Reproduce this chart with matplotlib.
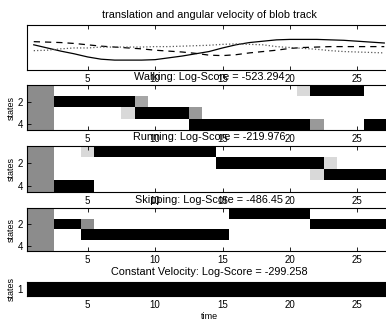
import numpy as np
import matplotlib
matplotlib.use('Agg')
import matplotlib.pyplot as plt

plt.rcParams['font.family'] = ['Liberation Sans', 'DejaVu Sans']
plt.rcParams['font.size'] = 6.5

# time axis
time = np.arange(1, 28)

# blob track, arbitrary units
trans_vel = [0.56, 0.49, 0.42, 0.36, 0.29, 0.24, 0.22, 0.22, 0.22, 0.23, 0.27, 0.31, 0.36, 0.41,
             0.49, 0.56, 0.61, 0.64, 0.67, 0.68, 0.68, 0.68, 0.67, 0.66, 0.64, 0.62, 0.60]
ang_vel = [0.63, 0.62, 0.61, 0.59, 0.56, 0.53, 0.51, 0.49, 0.47, 0.44, 0.42, 0.40, 0.37, 0.33,
           0.32, 0.34, 0.38, 0.41, 0.44, 0.48, 0.50, 0.51, 0.52, 0.52, 0.52, 0.52, 0.52]
third_vel = [0.43, 0.44, 0.47, 0.49, 0.49, 0.51, 0.51, 0.51, 0.51, 0.52, 0.52, 0.53, 0.54, 0.55,
             0.57, 0.58, 0.57, 0.56, 0.52, 0.50, 0.48, 0.46, 0.43, 0.41, 0.40, 0.39, 0.38]

# most likely state per time step (0 = uniform start)
walking_path = [0, 0, 2, 2, 2, 2, 2, 2, 3, 3, 3, 3, 4, 4, 4, 4, 4, 4, 4, 4, 4, 1, 1, 1, 1, 4, 4]
running_path = [0, 0, 4, 4, 4, 1, 1, 1, 1, 1, 1, 1, 1, 1, 2, 2, 2, 2, 2, 2, 2, 2, 3, 3, 3, 3, 3]
skipping_path = [0, 0, 2, 2, 3, 3, 3, 3, 3, 3, 3, 3, 3, 3, 3, 1, 1, 1, 1, 1, 1, 2, 2, 2, 2, 2, 2]
constvel_path = [1] * 27

# weaker probabilities: (time, state, prob)
walking_weak = [(8, 3, 0.15), (9, 2, 0.35), (13, 3, 0.4), (21, 1, 0.15), (22, 4, 0.4)]
running_weak = [(5, 1, 0.15), (22, 3, 0.15), (23, 2, 0.15)]
skipping_weak = [(5, 2, 0.45)]
constvel_weak = []

titles = ['Walking: Log-Score = -523.294',
          'Running: Log-Score = -219.976',
          'Skipping: Log-Score = -486.45',
          'Constant Velocity: Log-Score = -299.258']
n_states = [4, 4, 4, 1]

def state_matrix(path, weak, n):
    m = np.zeros((n, len(path)))
    for t, s in enumerate(path):
        if s == 0:
            m[:, t] = 0.45 if n > 1 else 1.0
        else:
            m[s - 1, t] = 1.0
    for t, s, p in weak:
        m[s - 1, t - 1] = p
    return m

def style_axes(ax):
    ax.set_xlim(0.5, 27.5)
    ax.set_xticks([5, 10, 15, 20, 25])
    ax.tick_params(direction='in', top=True, right=True, length=3, width=0.6, pad=3,
                   labelsize=7)
    for sp in ax.spines.values():
        sp.set_linewidth(0.8)

fig = plt.figure(figsize=(3.86, 3.2), dpi=100)
left, width = 0.070, 0.943

# top panel: the track
ax0 = fig.add_axes([left, 0.78125, width, 0.1406])
ax0.plot(time, trans_vel, 'k-', lw=0.9)
ax0.plot(time, ang_vel, 'k--', lw=0.9, dashes=(5, 4))
ax0.plot(time, third_vel, ':', color='0.35', lw=0.9)
ax0.set_ylim(0, 1)
ax0.set_yticks([])
style_axes(ax0)
ax0.set_title('translation and angular velocity of blob track', pad=5)

rects = [[left, 0.59375, width, 0.1406],
         [left, 0.40, width, 0.14375],
         [left, 0.2156, width, 0.134],
         [left, 0.075, width, 0.04375]]
paths = [walking_path, running_path, skipping_path, constvel_path]
weaks = [walking_weak, running_weak, skipping_weak, constvel_weak]
pads = [3.5, 4.5, 3.5, 5]

for i in range(4):
    ax = fig.add_axes(rects[i])
    n = n_states[i]
    m = state_matrix(paths[i], weaks[i], n)
    ax.imshow(m, cmap='gray_r', vmin=0, vmax=1, aspect='auto', interpolation='nearest',
              extent=(0.5, 27.5, n + 0.5, 0.5))
    style_axes(ax)
    ax.set_yticks([2, 4] if n > 1 else [1])
    ax.set_ylabel('states', labelpad=1)
    ax.set_title(titles[i], pad=pads[i])
    if i == 3:
        ax.set_xlabel('time', labelpad=1)

fig.savefig('out.png', dpi=100)
